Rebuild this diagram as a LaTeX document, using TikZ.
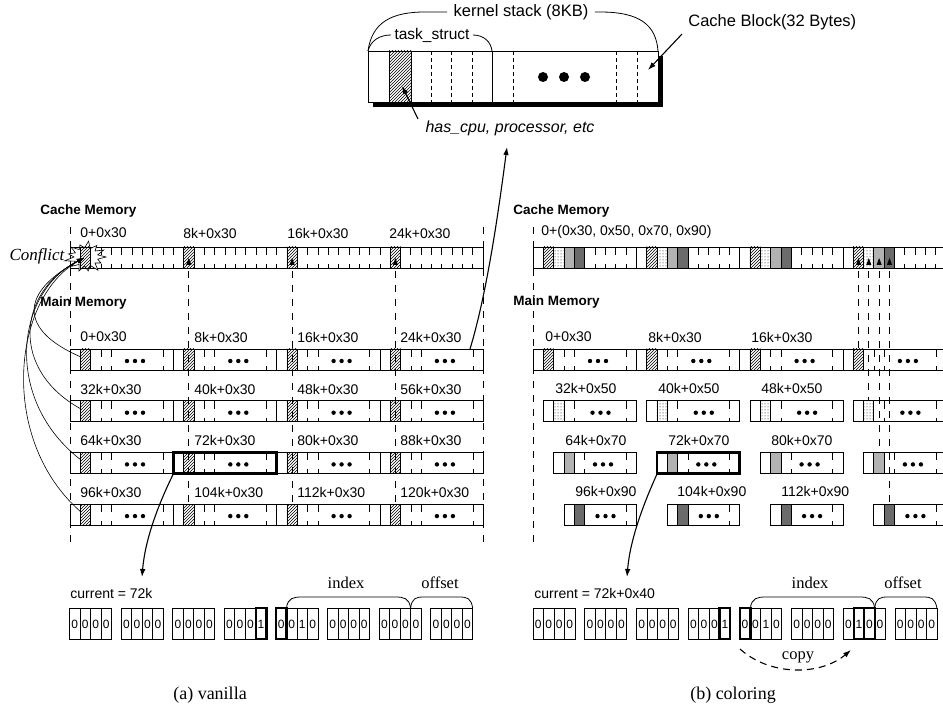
\documentclass[tikz,border=0pt]{standalone}
\usepackage{fontspec}
\setmainfont{Liberation Serif}
\setsansfont{Liberation Sans}
\usetikzlibrary{patterns,arrows.meta}
\newcommand\fs[1]{\fontsize{#1}{#1}\selectfont}
\tikzset{
  hat/.style={draw, pattern=north east lines},
  dotp/.style={draw, pattern=dots},
  dense/.style={draw, fill=black!30},
  dark/.style={draw, fill=black!58},
  lbl/.style={font=\sffamily\fs{14}, anchor=west, inner sep=0pt},
  head/.style={font=\sffamily\bfseries\fs{13.5}, anchor=west, inner sep=0pt},
  bitt/.style={font=\sffamily\fs{12}, inner sep=0pt},
  rmt/.style={font=\rmfamily\fs{16.5}, inner sep=0pt},
  vdash/.style={dash pattern=on 7pt off 7pt},
  ksdash/.style={dash pattern=on 4pt off 3pt},
  arr/.style={-{Latex[length=8pt,width=5.5pt]}, line width=1.1pt},
  carr/.style={-{Latex[length=7pt,width=5pt]}, line width=0.6pt},
  boldbox/.style={line width=2.4pt},
}
\newcommand\tickmark[3]{\draw (#1,#2) -- ++(0,8) (#1,#3) -- ++(0,-4);}
\newcommand\memblk[6]{%
  \pgfmathsetmacro\bx{#1+10.33*#3}%
  \pgfmathsetmacro\cx{#1+10.33*(#3+1)}%
  \pgfmathsetmacro\ex{#1+103.3}%
  \pgfmathsetmacro\yb{#2+21}%
  \pgfmathsetmacro\dc{#1+65+2.5*#3}%
  \foreach \t in {#5}{\pgfmathsetmacro\tx{#1+\t}\tickmark{\tx}{#2}{\yb}}%
  \draw[#4] (\cx,#2) rectangle ++(10.33,21);%
  \foreach \d in {-8,0,8}{\fill (\dc+\d,#2+12) circle (2.2);}%
  \draw[#6] (\bx,#2) rectangle (\ex,\yb);%
}
\newcommand\bitgrp[5]{%
  \foreach \d [count=\c from 0] in {#2,#3,#4,#5}{%
    \draw (#1+10.5*\c,608) rectangle ++(10.5,31);
    \node[bitt] at (#1+10.5*\c+5.25,624) {\d};}%
}
\newcommand\tri[1]{\fill (#1-2.6,265) -- (#1+2.6,265) -- (#1,258) -- cycle;}
\begin{document}
\begin{tikzpicture}[x=1pt,y=-1pt,line width=0.8pt]
\useasboundingbox (0,0) rectangle (943,719);

% ---------------- kernel stack ----------------
\fill (373,56) rectangle (663,107);
\draw[fill=white] (368,51) rectangle (658,102);
\draw[hat] (389,51) rectangle (411,102);
\foreach \x in {431,451,472,513,616,637} \draw[ksdash] (\x,51) -- (\x,102);
\draw (492,51) -- (492,102);
\foreach \x in {543,564,585} \fill (\x,77) circle (5);
\node[font=\sffamily\fs{16.5}, inner sep=0pt] (ks) at (521,12) {kernel stack (8KB)};
\draw (368,51) .. controls (372,22) and (392,12) .. (425,12) -- ([xshift=-6pt]ks.west);
\draw ([xshift=6pt]ks.east) -- (600,12) .. controls (640,12) and (656,25) .. (658,51);
\node[font=\sffamily\fs{15.5}, inner sep=0pt] (ts) at (432,35) {task\_struct};
\draw (368,51) .. controls (371,40) and (380,35) .. ([xshift=-3pt]ts.west);
\draw ([xshift=3pt]ts.east) .. controls (484,35) and (491,42) .. (492,51);
\node[font=\sffamily\fs{16.5}, anchor=west, inner sep=0pt] (cb) at (688,22) {Cache Block(32 Bytes)};
\coordinate (cbtip) at (648,70);
\draw[arr] (cb.south west) ++(-6,4) -- (cbtip);
\node[font=\sffamily\itshape\fs{16}, inner sep=0pt] (hc) at (510,128) {has\_cpu, processor, etc};
\coordinate (hctip) at (402,86);
\draw[arr] (418,119) -- (hctip);

% ---------------- left: cache memory ----------------
\node[head] (lcm) at (40,211) {Cache Memory};
\node[head] (lmm) at (40,303) {Main Memory};
\draw[vdash] (70,227) -- (70,547);
\draw[vdash] (483,227) -- (483,547);
\foreach \x in {188.8,292.1,395.4} \draw[vdash] (\x,271) -- (\x,504);
\draw (70,247) rectangle (483.2,268);
\foreach \i in {1,...,39}{\pgfmathsetmacro\xx{70+10.33*\i}\tickmark{\xx}{247}{268}}
\foreach \j in {0,...,3} \draw[hat] (70+103.3*\j+10.33,247) rectangle ++(10.33,21);
\tri{188.8}\tri{292.1}\tri{395.4}
\node[lbl] at (80,233) {0+0x30};
\node[lbl] at (183,233) {8k+0x30};
\node[lbl] at (287,233) {16k+0x30};
\node[lbl] at (389,233) {24k+0x30};

% conflict burst
\draw[fill=white, line width=0.6pt] plot[samples at={0,...,25}]
  ({86 + ((mod(\x,2)==0) ? ({20,17,21,18,20,19,22,18,20,17,21,19,20}[int(\x/2)]) : 12)*cos(\x*360/26)},
   {257 + ((mod(\x,2)==0) ? ({15,13,16,14,15,14,16,13,15,13,16,14,15}[int(\x/2)]) : 9)*sin(\x*360/26)}) -- cycle;
\draw[hat] (80.3,247) rectangle ++(10.33,21);
\node[font=\rmfamily\itshape\fs{17}, inner sep=0pt] (conf) at (37,256) {Conflict};
\coordinate (ctip) at (84,258);

% ---------------- left: main memory ----------------
\foreach \r in {0,1,2,3}{
  \pgfmathsetmacro\yt{349+51.7*\r}
  \foreach \j in {0,...,3}{
    \pgfmathsetmacro\sx{70+103.3*\j}
    \memblk{\sx}{\yt}{0}{hat}{31,41.3,93}{}
  }
}
\draw[boldbox] (173.3,452.4) rectangle (276.6,473.4);
\node[lbl] at (80,337) {0+0x30};   \node[lbl] at (194,337) {8k+0x30};
\node[lbl] at (297,337) {16k+0x30}; \node[lbl] at (400,337) {24k+0x30};
\node[lbl] at (80,389) {32k+0x30}; \node[lbl] at (194,389) {40k+0x30};
\node[lbl] at (297,389) {48k+0x30}; \node[lbl] at (400,389) {56k+0x30};
\node[lbl] at (80,440) {64k+0x30}; \node[lbl] at (194,440) {72k+0x30};
\node[lbl] at (297,440) {80k+0x30}; \node[lbl] at (400,440) {88k+0x30};
\node[lbl] at (80,492) {96k+0x30}; \node[lbl] at (194,492) {104k+0x30};
\node[lbl] at (297,492) {112k+0x30}; \node[lbl] at (400,492) {120k+0x30};

\draw[carr] (81,357) .. controls (18,330) and (20,292) .. (ctip);
\draw[carr] (81,409) .. controls (10,370) and (17,292) .. (ctip);
\draw[carr] (81,460) .. controls (3,400) and (15,292) .. (ctip);
\draw[carr] (81,512) .. controls (-2,440) and (12,298) .. (ctip);

\coordinate (up24) at (470,349);
\draw[arr] (up24) .. controls (488,290) and (500,200) .. (507,147);

% left bits
\node[lbl] (curl) at (70,593) {current = 72k};
\bitgrp{69.5}{0}{0}{0}{0}
\bitgrp{121.1}{0}{0}{0}{0}
\bitgrp{172.7}{0}{0}{0}{0}
\bitgrp{224.3}{0}{0}{0}{1}
\bitgrp{275.9}{0}{0}{1}{0}
\bitgrp{327.5}{0}{0}{0}{0}
\bitgrp{379.1}{0}{0}{0}{0}
\bitgrp{430.7}{0}{0}{0}{0}
\draw[boldbox] (255.8,608) rectangle ++(10.5,31);
\draw[boldbox] (275.9,608) rectangle ++(10.5,31);
\draw (286.4,608) .. controls (288,598) and (293,597) .. (302,597) -- (395,597) .. controls (404,597) and (409,598) .. (410.6,608);
\draw (410.6,608) .. controls (412,598) and (416,597) .. (424,597) -- (459,597) .. controls (467,597) and (471,598) .. (472.7,608);
\node[rmt] (idxl) at (346,583) {index};
\node[rmt] (offl) at (440,583) {offset};
\coordinate (bl72) at (173.3,474);
\draw[arr] (bl72) .. controls (158,505) and (145,540) .. (142,577);
\node[font=\rmfamily\fs{18}, inner sep=0pt] (capa) at (210,695) {(a) vanilla};

% ---------------- right: cache memory ----------------
\node[head] (rcm) at (513,211) {Cache Memory};
\node[head] (rmm) at (513,302) {Main Memory};
\draw[vdash] (533,227) -- (533,547);
\node[lbl] at (541,232) {0+(0x30, 0x50, 0x70, 0x90)};
\foreach \x/\yy in {858.5/349,868.8/400.7,879.1/452.4,889.5/504.1} \draw[vdash] (\x,271) -- (\x,\yy);
\draw (533,247) rectangle (960,268);
\foreach \i in {1,...,41}{\pgfmathsetmacro\xx{533+10.33*\i}\tickmark{\xx}{247}{268}}
\foreach \j in {1,...,4} \draw (533+103.3*\j,247) -- ++(0,21);
\foreach \j in {0,...,3}{
  \pgfmathsetmacro\sx{533+103.3*\j}
  \draw[hat]   (\sx+10.33,247) rectangle ++(10.33,21);
  \draw[dotp]  (\sx+20.66,247) rectangle ++(10.33,21);
  \draw[dense] (\sx+30.99,247) rectangle ++(10.33,21);
  \draw[dark]  (\sx+41.32,247) rectangle ++(10.33,21);
}
\tri{858.5}\tri{868.8}\tri{879.1}\tri{889.5}

% ---------------- right: main memory ----------------
\foreach \j in {0,...,3}{
  \pgfmathsetmacro\sx{533+103.3*\j}
  \memblk{\sx}{349}{0}{hat}{31,41.3,93}{}
  \memblk{\sx}{400.7}{1}{dotp}{41.3,93}{}
  \memblk{\sx}{452.4}{2}{dense}{51.7,93}{}
  \memblk{\sx}{504.1}{3}{dark}{93}{}
}
\draw[boldbox] (657,452.4) rectangle (739.6,473.4);
\node[lbl] at (545,337) {0+0x30};   \node[lbl] at (648,337) {8k+0x30};  \node[lbl] at (751,337) {16k+0x30};
\node[lbl] at (555,388) {32k+0x50}; \node[lbl] at (658,388) {40k+0x50}; \node[lbl] at (761,388) {48k+0x50};
\node[lbl] at (565,440) {64k+0x70}; \node[lbl] at (668,440) {72k+0x70}; \node[lbl] at (771,440) {80k+0x70};
\node[lbl] at (575,491) {96k+0x90}; \node[lbl] at (677,491) {104k+0x90}; \node[lbl] at (781,491) {112k+0x90};
\coordinate (br72) at (657,474);
\draw[arr] (br72) .. controls (643,505) and (630,540) .. (627,577);

% right bits
\node[lbl] (curr) at (534,593) {current = 72k+0x40};
\bitgrp{533}{0}{0}{0}{0}
\bitgrp{584.7}{0}{0}{0}{0}
\bitgrp{636.4}{0}{0}{0}{0}
\bitgrp{688.1}{0}{0}{0}{1}
\bitgrp{739.8}{0}{0}{1}{0}
\bitgrp{791.5}{0}{0}{0}{0}
\bitgrp{843.2}{0}{1}{0}{0}
\bitgrp{894.9}{0}{0}{0}{0}
\draw[boldbox] (719.6,608) rectangle ++(10.5,31);
\draw[boldbox] (739.8,608) rectangle ++(10.5,31);
\draw[boldbox] (853.7,608) rectangle ++(10.5,31);
\draw[boldbox] (864.2,608) rectangle ++(10.5,31);
\draw (750.3,608) .. controls (752,598) and (757,597) .. (766,597) -- (859,597) .. controls (868,597) and (873,598) .. (874.7,608);
\draw (874.7,608) .. controls (876,598) and (880,597) .. (888,597) -- (923,597) .. controls (931,597) and (935,598) .. (936.9,608);
\node[rmt] (idxr) at (810,583) {index};
\node[rmt] (offr) at (903,583) {offset};
\node[rmt] (copy) at (798,657) {copy};
\draw[arr, dashed, dash pattern=on 7pt off 5pt] (740,649) .. controls (770,676) and (820,676) .. (851,650);
\node[font=\rmfamily\fs{18}, inner sep=0pt] (capb) at (733,695) {(b) coloring};
\end{tikzpicture}
\end{document}
